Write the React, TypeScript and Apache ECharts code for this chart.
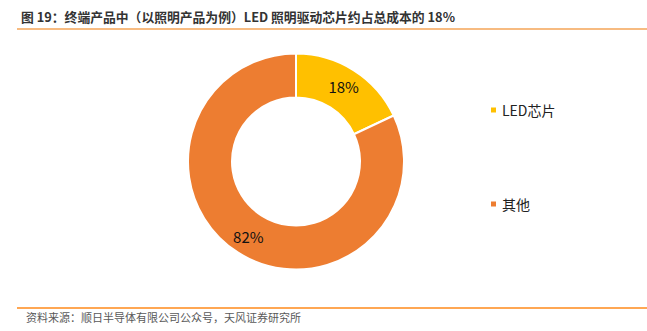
import React, { useEffect, useRef } from "react";
import * as echarts from "echarts";

const categories = ["LED芯片", "其他"];
const values = [18, 82];
const colors = ["#FFC000", "#ED7D31"];
const titleText = "图 19：终端产品中（以照明产品为例）LED 照明驱动芯片约占总成本的 18%";
const sourceText = "资料来源：顺日半导体有限公司公众号，天风证券研究所";

export default function App() {
  const ref = useRef<HTMLDivElement>(null);
  useEffect(() => {
    if (!ref.current) return;
    const chart = echarts.init(ref.current, null, { renderer: "svg" });
    const font = "'Noto Sans CJK SC', 'Noto Sans', sans-serif";
    chart.setOption({
      animation: false,
      color: colors,
      textStyle: { fontFamily: font },
      legend: {
        orient: "vertical",
        left: 484,
        top: 98,
        itemWidth: 7,
        itemHeight: 7,
        itemGap: 80,
        icon: "rect",
        textStyle: { fontSize: 14, color: "#222", fontFamily: font, padding: [0, 0, 0, 0] },
        data: categories,
      },
      graphic: [
        {
          type: "text",
          left: 21,
          top: 10,
          style: { text: titleText, font: `bold 12.8px ${font}`, fill: "#333" },
        },
        {
          type: "line",
          shape: { x1: 17, y1: 29, x2: 647, y2: 29 },
          style: { stroke: "#F5A557", lineWidth: 1.5 },
        },
        {
          type: "line",
          shape: { x1: 17, y1: 308, x2: 647, y2: 308 },
          style: { stroke: "#FF8A1A", lineWidth: 1.5 },
        },
        {
          type: "text",
          left: 26,
          top: 311,
          style: { text: sourceText, font: `11px ${font}`, fill: "#595959" },
        },
      ],
      series: [
        {
          type: "pie",
          center: [296, 161.5],
          radius: [64, 108],
          startAngle: 90,
          clockwise: true,
          itemStyle: { borderColor: "#fff", borderWidth: 2 },
          label: {
            show: true,
            position: "inside",
            formatter: "{c}%",
            fontSize: 15,
            color: "#111",
            fontFamily: font,
          },
          labelLine: { show: false },
          emphasis: { disabled: true },
          data: categories.map((name, i) => ({ name, value: values[i] })),
        },
      ],
    });
    return () => chart.dispose();
  }, []);
  return <div ref={ref} style={{ width: 647, height: 331, position: "absolute", left: 0, top: 0 }} />;
}
